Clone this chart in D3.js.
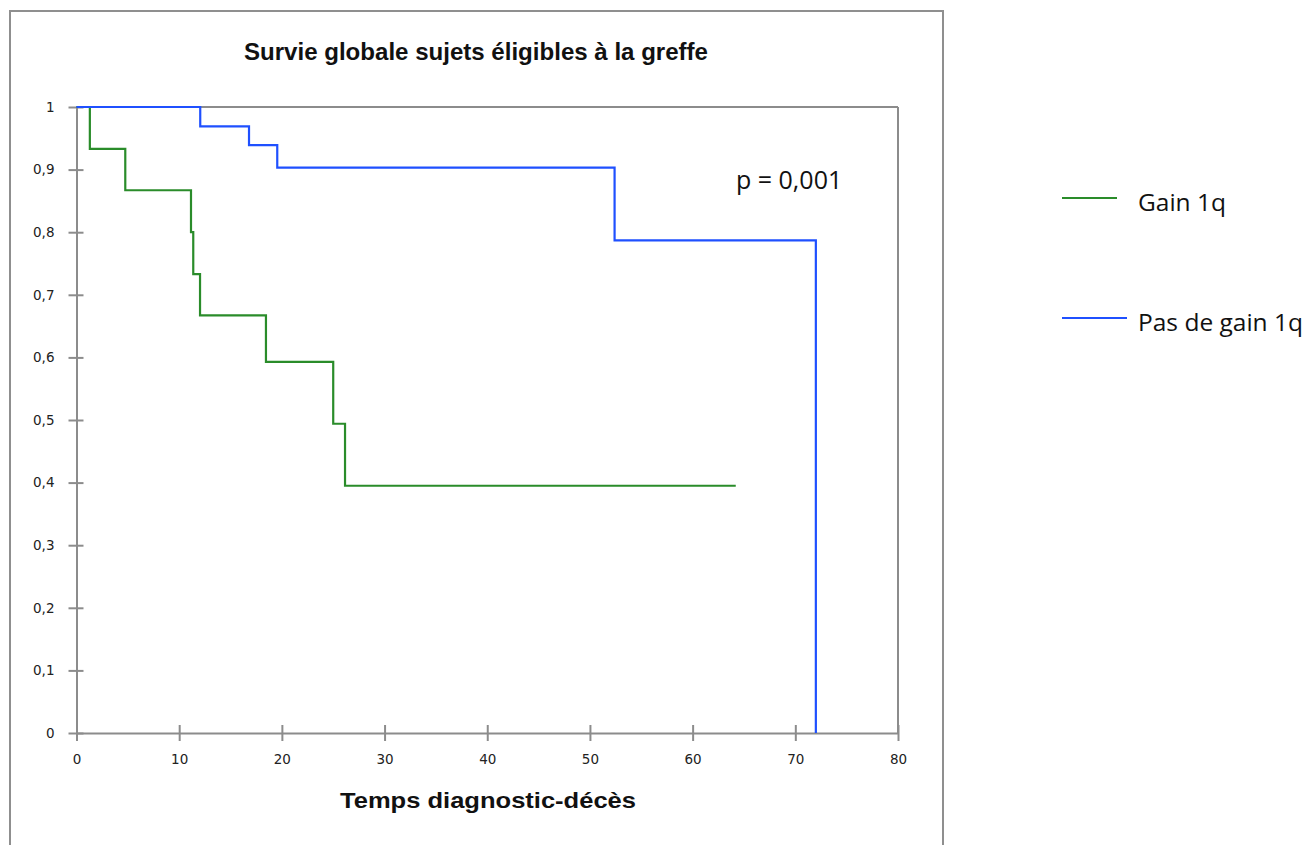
<!DOCTYPE html>
<html><head><meta charset="utf-8">
<script src="https://cdn.jsdelivr.net/npm/d3@7"></script>
<style>body{margin:0;background:#fff}svg{display:block}</style>
</head><body>
<svg id="c" width="1314" height="845"></svg>
<script>
// Data (Kaplan-Meier step points: time, survival)
const gainTimes  = [0, 1.3, 4.75, 11.15, 11.37, 12.03, 18.45, 25.0, 26.15, 64.2];
const gainSurv   = [1, 0.933, 0.867, 0.8, 0.733, 0.667, 0.593, 0.494, 0.395, 0.395];
const noGainTimes = [0, 12.05, 16.8, 19.55, 52.4, 72.0];
const noGainSurv  = [1, 0.969, 0.939, 0.903, 0.787, 0];
const xTicks = [0,10,20,30,40,50,60,70,80];
const yTicks = [0,0.1,0.2,0.3,0.4,0.5,0.6,0.7,0.8,0.9,1];
const seriesNames = ["Gain 1q", "Pas de gain 1q"];
const seriesColors = ["#2a8c2a", "#1f50ff"];

const svg = d3.select("#c");
const x = d3.scaleLinear().domain([0,80]).range([76.5,898]);
const y = d3.scaleLinear().domain([0,1]).range([733,107]);

// outer border
svg.append("rect").attr("x",10).attr("y",11).attr("width",933).attr("height",850)
  .attr("fill","none").attr("stroke","#8f8f8f").attr("stroke-width",2);

// title
svg.append("text").attr("x",476).attr("y",60).attr("text-anchor","middle")
  .attr("font-family","Liberation Sans, Arial, sans-serif").attr("font-weight","bold")
  .attr("font-size",24).attr("textLength",464).attr("lengthAdjust","spacingAndGlyphs")
  .attr("fill","#111").text("Survie globale sujets éligibles à la greffe");

// frame top & right
svg.append("line").attr("x1",x(0)).attr("x2",x(80)).attr("y1",y(1)).attr("y2",y(1)).attr("stroke","#8c8c8c").attr("stroke-width",2);
svg.append("line").attr("x1",x(80)).attr("x2",x(80)).attr("y1",y(1)).attr("y2",y(0)).attr("stroke","#8c8c8c").attr("stroke-width",2);

const fmt = d => d3.format(".1~f")(d).replace(".", ",");
const xAxis = svg.append("g").attr("transform",`translate(0,${y(0)})`)
  .call(d3.axisBottom(x).tickValues(xTicks).tickSizeInner(8).tickSizeOuter(0).tickPadding(13).tickFormat(d=>d));
const yAxis = svg.append("g").attr("transform",`translate(${x(0)},0)`)
  .call(d3.axisLeft(y).tickValues(yTicks).tickSizeInner(8).tickSizeOuter(0).tickPadding(16).tickFormat(fmt));
[xAxis,yAxis].forEach(g=>{
  g.select(".domain").attr("stroke","#8c8c8c").attr("stroke-width",2);
  g.selectAll(".tick line").attr("stroke","#8c8c8c").attr("stroke-width",2);
  g.selectAll(".tick text").attr("font-family","DejaVu Sans, sans-serif").attr("font-size",13.5).attr("fill","#222");
});
// cross-ticks: extend to the other side
xAxis.selectAll(".tick line").attr("y1",-8);
yAxis.selectAll(".tick line").attr("x1",7).attr("x2",-8);
yAxis.selectAll(".tick text").attr("x",-22).attr("dy","0.32em");

// x axis label
svg.append("text").attr("x",488).attr("y",808).attr("text-anchor","middle")
  .attr("font-family","Liberation Sans, Arial, sans-serif").attr("font-weight","bold")
  .attr("font-size",22).attr("textLength",296).attr("lengthAdjust","spacingAndGlyphs")
  .attr("fill","#111").text("Temps diagnostic-décès");

// curves
const line = d3.line().x(d=>x(d[0])).y(d=>y(d[1])).curve(d3.curveStepAfter);
const series = [d3.zip(gainTimes,gainSurv), d3.zip(noGainTimes,noGainSurv)];
series.forEach((s,i)=>{
  svg.append("path").datum(s).attr("d",line).attr("fill","none")
    .attr("stroke",seriesColors[i]).attr("stroke-width",2.2);
});

// p-value
svg.append("text").attr("x",736).attr("y",189).attr("font-family","Open Sans, sans-serif")
  .attr("font-size",25).attr("fill","#111").text("p = 0,001");

// legend
const leg = svg.append("g");
const legY = [198, 318];
const legLen = [55, 65];
seriesNames.forEach((n,i)=>{
  leg.append("line").attr("x1",1062).attr("x2",1062+legLen[i]).attr("y1",legY[i]).attr("y2",legY[i])
    .attr("stroke",seriesColors[i]).attr("stroke-width",2);
  leg.append("text").attr("x",1138).attr("y",legY[i]+13).attr("font-family","Open Sans, sans-serif")
    .attr("font-size",24.5).attr("fill","#111").text(n);
});
</script>
</body></html>
